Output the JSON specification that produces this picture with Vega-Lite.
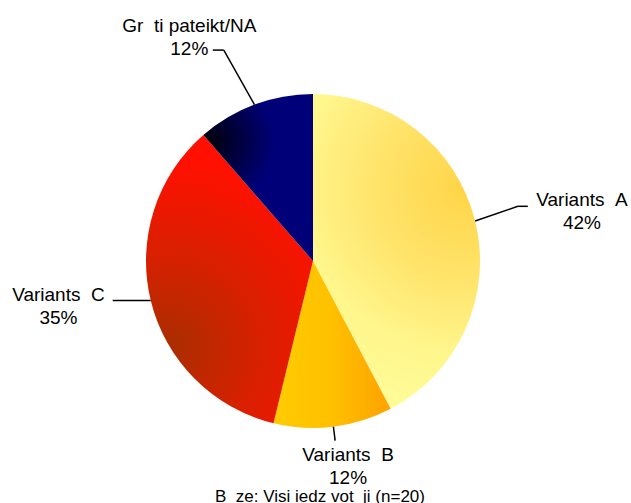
{
  "$schema": "https://vega.github.io/schema/vega-lite/v6.json",
  "width": 626,
  "height": 450,
  "autosize": {"type": "none"},
  "padding": {"left": 0, "right": 5, "top": 36, "bottom": 17},
  "background": "white",
  "config": {"view": {"stroke": null}, "font": "Liberation Sans"},
  "title": {
    "text": "B \u00a0ze: Visi iedz vot \u00a0ji (n=20)",
    "orient": "bottom",
    "frame": "group",
    "offset": 14,
    "fontSize": 17,
    "fontWeight": "normal",
    "color": "black",
    "font": "Liberation Sans",
    "baseline": "alphabetic",
    "dx": 7
  },
  "data": {
    "values": [
      {"category": "Variants  A", "label": "Variants \u00a0A\n42%", "value": 42.3, "order": 1},
      {"category": "Variants  B", "label": "Variants \u00a0B\n12%", "value": 11.5, "order": 2},
      {"category": "Variants  C", "label": "Variants \u00a0C\n35%", "value": 34.8, "order": 3},
      {"category": "Gr  ti pateikt/NA", "label": "Gr \u00a0ti pateikt/NA\n12%", "value": 11.4, "order": 4}
    ]
  },
  "layer": [
    {
      "mark": {"type": "arc", "outerRadius": 167},
      "encoding": {
        "theta": {"field": "value", "type": "quantitative", "stack": true, "scale": {"domain": [0, 100]}},
        "order": {"field": "order", "type": "quantitative"},
        "fill": {
          "condition": [
            {"test": "datum.category === 'Variants  A'", "value": {"gradient": "radial", "x1": 0.72, "y1": 0.3, "r1": 0, "x2": 0.72, "y2": 0.3, "r2": 0.7, "stops": [{"offset": 0, "color": "#FFD548"}, {"offset": 0.4, "color": "#FFE36A"}, {"offset": 0.75, "color": "#FFF68C"}, {"offset": 1, "color": "#FFFB96"}]}},
            {"test": "datum.category === 'Variants  B'", "value": {"gradient": "linear", "x1": 0, "y1": 0, "x2": 1, "y2": 0, "stops": [{"offset": 0, "color": "#FFCC00"}, {"offset": 0.5, "color": "#FFC000"}, {"offset": 1, "color": "#FFA200"}]}},
            {"test": "datum.category === 'Variants  C'", "value": {"gradient": "radial", "x1": 0.28, "y1": 0.74, "r1": 0, "x2": 0.28, "y2": 0.74, "r2": 0.65, "stops": [{"offset": 0, "color": "#A82E00"}, {"offset": 0.5, "color": "#D82000"}, {"offset": 1, "color": "#FF1000"}]}}
          ],
          "value": {"gradient": "radial", "x1": 0.22, "y1": 0.28, "r1": 0, "x2": 0.22, "y2": 0.28, "r2": 0.38, "stops": [{"offset": 0, "color": "#000010"}, {"offset": 1, "color": "#000078"}]}
        }
      }
    },
    {
      "mark": {
        "type": "text",
        "font": "Liberation Sans",
        "fontSize": 19,
        "lineHeight": 23,
        "lineBreak": "\n",
        "align": "center",
        "baseline": "middle",
        "color": "black",
        "radius": {"expr": "datum.category === 'Variants  A' ? 275 : datum.category === 'Variants  B' ? 205 : datum.category === 'Variants  C' ? 262 : 256"},
        "dx": {"expr": "datum.category === 'Variants  A' ? 2 : datum.category === 'Variants  B' ? 10 : datum.category === 'Variants  C' ? 0 : -34"},
        "dy": {"expr": "datum.category === 'Variants  A' ? 4.5 : datum.category === 'Variants  B' ? -9.5 : datum.category === 'Variants  C' ? -27.5 : 4.5"}
      },
      "encoding": {
        "theta": {"field": "value", "type": "quantitative", "stack": true},
        "order": {"field": "order", "type": "quantitative"},
        "text": {"field": "label", "type": "nominal"}
      }
    },
    {
      "transform": [{"stack": "value", "groupby": [], "sort": [{"field": "order", "order": "ascending"}], "as": ["v0", "v1"]}],
      "mark": {"type": "rule", "color": "black", "strokeWidth": 1.5},
      "encoding": {
        "x": {"value": {"expr": "width/2 + 167*sin(PI*(datum.v0+datum.v1)/100)"}},
        "y": {"value": {"expr": "height/2 - 167*cos(PI*(datum.v0+datum.v1)/100)"}},
        "x2": {"value": {"expr": "width/2 + (datum.category === 'Variants  A' ? 212 : datum.category === 'Variants  B' ? 181 : datum.category === 'Variants  C' ? 167 : 229)*sin(PI*(datum.v0+datum.v1)/100 + (datum.category === 'Variants  A' ? -0.019 : datum.category === 'Gr  ti pateikt/NA' ? -0.042 : 0))"}},
        "y2": {"value": {"expr": "height/2 - (datum.category === 'Variants  A' ? 212 : datum.category === 'Variants  B' ? 181 : datum.category === 'Variants  C' ? 167 : 229)*cos(PI*(datum.v0+datum.v1)/100 + (datum.category === 'Variants  A' ? -0.019 : datum.category === 'Gr  ti pateikt/NA' ? -0.042 : 0))"}}
      }
    },
    {
      "transform": [{"stack": "value", "groupby": [], "sort": [{"field": "order", "order": "ascending"}], "as": ["v0", "v1"]}],
      "mark": {"type": "rule", "color": "black", "strokeWidth": 1.5},
      "encoding": {
        "x": {"value": {"expr": "width/2 + (datum.category === 'Variants  A' ? 212 : datum.category === 'Variants  B' ? 181 : datum.category === 'Variants  C' ? 167 : 229)*sin(PI*(datum.v0+datum.v1)/100 + (datum.category === 'Variants  A' ? -0.019 : datum.category === 'Gr  ti pateikt/NA' ? -0.042 : 0))"}},
        "y": {"value": {"expr": "height/2 - (datum.category === 'Variants  A' ? 212 : datum.category === 'Variants  B' ? 181 : datum.category === 'Variants  C' ? 167 : 229)*cos(PI*(datum.v0+datum.v1)/100 + (datum.category === 'Variants  A' ? -0.019 : datum.category === 'Gr  ti pateikt/NA' ? -0.042 : 0))"}},
        "x2": {"value": {"expr": "width/2 + (datum.category === 'Variants  A' ? 212 : datum.category === 'Variants  B' ? 181 : datum.category === 'Variants  C' ? 167 : 229)*sin(PI*(datum.v0+datum.v1)/100 + (datum.category === 'Variants  A' ? -0.019 : datum.category === 'Gr  ti pateikt/NA' ? -0.042 : 0)) + (datum.category === 'Variants  A' ? 10 : datum.category === 'Variants  B' ? 0 : datum.category === 'Variants  C' ? -38 : -11)"}},
        "y2": {"value": {"expr": "height/2 - (datum.category === 'Variants  A' ? 212 : datum.category === 'Variants  B' ? 181 : datum.category === 'Variants  C' ? 167 : 229)*cos(PI*(datum.v0+datum.v1)/100 + (datum.category === 'Variants  A' ? -0.019 : datum.category === 'Gr  ti pateikt/NA' ? -0.042 : 0))"}}
      }
    }
  ]
}
